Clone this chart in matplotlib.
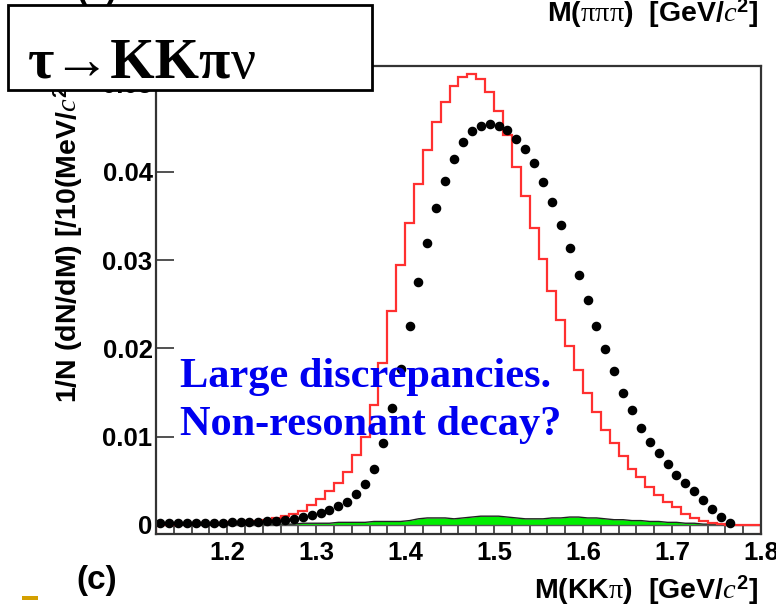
import matplotlib
matplotlib.use("Agg")
import matplotlib.pyplot as plt
import numpy as np
from matplotlib.patches import Rectangle

plt.rcParams["mathtext.fontset"] = "custom"
plt.rcParams["mathtext.rm"] = "Liberation Sans:bold"
plt.rcParams["mathtext.it"] = "Liberation Serif:italic"
plt.rcParams["mathtext.bf"] = "Liberation Sans:bold"
plt.rcParams["mathtext.sf"] = "Liberation Serif"

# ---- data: 10 MeV bins of M(KK pi) from 1.12 to 1.80 GeV ----
mass_edges = np.round(np.arange(1.12, 1.8001, 0.01), 2)
mass_centers = np.round(mass_edges[:-1] + 0.005, 3)

# simulation (red histogram)
mc_kkpi = [
    0.0000, 0.0000, 0.0001, 0.0001, 0.0001, 0.0002, 0.0002, 0.0002,
    0.0003, 0.0003, 0.0004, 0.0005, 0.0006, 0.0008, 0.0010, 0.0012,
    0.0016, 0.0023, 0.0029, 0.0038, 0.0048, 0.0060, 0.0079, 0.0100,
    0.0136, 0.0183, 0.0242, 0.0294, 0.0342, 0.0386, 0.0425, 0.0456,
    0.0479, 0.0497, 0.0508, 0.0511, 0.0505, 0.0490, 0.0469, 0.0442,
    0.0406, 0.0373, 0.0336, 0.0301, 0.0265, 0.0232, 0.0203, 0.0176,
    0.0150, 0.0128, 0.0108, 0.0093, 0.0078, 0.0064, 0.0054, 0.0043,
    0.0034, 0.0026, 0.0020, 0.0013, 0.0008, 0.0005, 0.0002, 0.0001,
    0.0000, 0.0000, 0.0000, 0.0000,
]

# measured spectrum (black points), bins 1.12 ... 1.77
data_kkpi = [
    0.0002, 0.0002, 0.0002, 0.0002, 0.0002, 0.0002, 0.0002, 0.0002,
    0.0003, 0.0003, 0.0003, 0.0003, 0.0004, 0.0005, 0.0006, 0.0007,
    0.0009, 0.0011, 0.0014, 0.0017, 0.0021, 0.0026, 0.0035, 0.0046,
    0.0063, 0.0093, 0.0133, 0.0177, 0.0226, 0.0275, 0.0320, 0.0359,
    0.0390, 0.0415, 0.0434, 0.0446, 0.0452, 0.0454, 0.0452, 0.0447,
    0.0437, 0.0426, 0.0410, 0.0389, 0.0366, 0.0340, 0.0314, 0.0283,
    0.0255, 0.0225, 0.0199, 0.0175, 0.0150, 0.0130, 0.0110, 0.0094,
    0.0082, 0.0069, 0.0057, 0.0048, 0.0038, 0.0028, 0.0018, 0.0009,
    0.0002,
]

# background (green band)
bkg_kkpi = [
    0.0000, 0.0000, 0.0000, 0.0000, 0.0000, 0.0000, 0.0000, 0.0000,
    0.0001, 0.0001, 0.0001, 0.0001, 0.0001, 0.0001, 0.0001, 0.0001,
    0.0002, 0.0002, 0.0002, 0.0002, 0.0003, 0.0003, 0.0003, 0.0003,
    0.0004, 0.0004, 0.0004, 0.0004, 0.0005, 0.0007, 0.0008, 0.0008,
    0.0008, 0.0007, 0.0008, 0.0009, 0.0010, 0.0010, 0.0010, 0.0009,
    0.0008, 0.0007, 0.0007, 0.0007, 0.0008, 0.0008, 0.0009, 0.0009,
    0.0008, 0.0008, 0.0007, 0.0006, 0.0006, 0.0005, 0.0005, 0.0004,
    0.0004, 0.0003, 0.0003, 0.0002, 0.0002, 0.0001, 0.0001, 0.0001,
    0.0000, 0.0000, 0.0000, 0.0000,
]

x_ticks = [1.2, 1.3, 1.4, 1.5, 1.6, 1.7, 1.8]
x_tick_labels = ["1.2", "1.3", "1.4", "1.5", "1.6", "1.7", "1.8"]
y_ticks = [0.0, 0.01, 0.02, 0.03, 0.04, 0.05]
y_tick_labels = ["0", "0.01", "0.02", "0.03", "0.04", "0.05"]

W, H = 776, 611
fig = plt.figure(figsize=(W / 100, H / 100), dpi=100)
fig.patch.set_facecolor("white")

ax = fig.add_axes([156 / W, 1 - 534 / H, (761 - 156) / W, (534 - 66) / H])
ymin, ymax = -0.00102, 0.0520
ax.set_xlim(1.12, 1.80)
ax.set_ylim(ymin, ymax)

# background band
ax.fill_between(mass_centers, 0, bkg_kkpi, color="#00ee00", lw=0, zorder=2)
ax.plot(mass_centers, bkg_kkpi, color="#222222", lw=1.0, zorder=3)
ax.axhline(0, color="#555555", lw=1.0, zorder=2)

# simulation histogram
ax.stairs(mc_kkpi, mass_edges, baseline=ymin, color="#ff3030", lw=1.6, zorder=4)

# data points
ax.plot(mass_centers[:len(data_kkpi)], data_kkpi, "o", color="black",
        ms=5.9, mec="black", zorder=5)

for s in ax.spines.values():
    s.set_color("#333333")
    s.set_linewidth(1.6)
    s.set_zorder(6)

tick_font = dict(family="Liberation Sans", weight="bold", size=18.5)
ax.set_xticks(x_ticks)
ax.set_xticklabels(x_tick_labels, fontdict=tick_font)
ax.set_xticks(np.round(np.arange(1.12, 1.80, 0.02), 2), minor=True)
ax.set_yticks(y_ticks)
ax.set_yticklabels(y_tick_labels, fontdict=tick_font)
ax.tick_params(axis="x", which="both", direction="in", length=6.0,
               width=1.2, color="#333333", pad=5)
ax.tick_params(axis="y", which="major", direction="in", length=13,
               width=1.2, color="#333333", pad=2.5)
ax.tick_params(axis="y", which="minor", left=False)

# comment text; baseline given for the lower line
ax.text(1.147, 0.0102, "Large discrepancies.\nNon-resonant decay?",
        family="Liberation Serif", weight="bold", size=30.5, color="#0000f0",
        ha="left", va="baseline", linespacing=1.36, zorder=8)

lab_font = dict(family="Liberation Sans", weight="bold", size=20.5)
fig.text(758 / W, 1 - 590 / H, r"M(KK$\mathsf{\pi}$)  [GeV/$c^{\mathbf{2}}$]",
         ha="right", va="center", **lab_font)
fig.text(758 / W, 1 - 13 / H, r"M($\mathsf{\pi\pi\pi}$)  [GeV/$c^{\mathbf{2}}$]",
         ha="right", va="center", **lab_font)
fig.text(68 / W, 1 - 403 / H, r"1/N (dN/dM) [/10(MeV/$c^{\mathbf{2}}$)]",
         rotation=90, ha="center", va="bottom", zorder=3, **lab_font)
fig.text(97 / W, 1 - 581 / H, "(c)", ha="center", va="center",
         family="Liberation Sans", weight="bold", size=24)
fig.text(97 / W, 1 + 9 / H, "(a)", ha="center", va="center",
         family="Liberation Sans", weight="bold", size=24)

# slide bullet
fig.add_artist(Rectangle((22 / W, 1 - 600 / H), 16 / W, 4 / H,
                         transform=fig.transFigure, facecolor="#d4a000",
                         edgecolor="none"))

# title box
fig.add_artist(Rectangle((8 / W, 1 - 90 / H), (372 - 8) / W, (90 - 5) / H,
                         transform=fig.transFigure, facecolor="white",
                         edgecolor="black", lw=2.0, zorder=10))
t1 = fig.text(28 / W, 1 - 78 / H, "τ→KKπ", family="Liberation Serif",
              weight="bold", size=41, ha="left", va="baseline", zorder=11)
fig.canvas.draw()
bb = t1.get_window_extent(fig.canvas.get_renderer())
fig.text(bb.x1 / fig.bbox.width, 1 - 78 / H, "ν",
         family="Liberation Serif", size=40, ha="left", va="baseline", zorder=11)

fig.savefig("out.png", dpi=100, facecolor="white")
